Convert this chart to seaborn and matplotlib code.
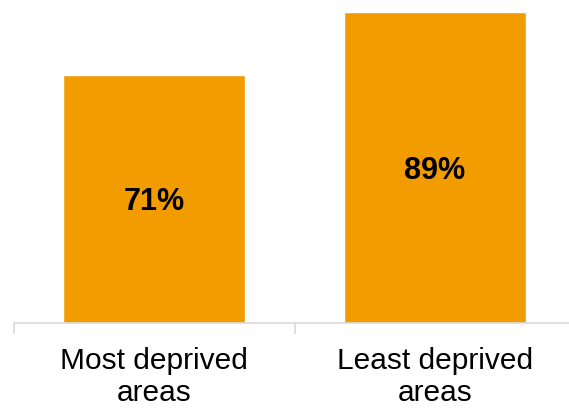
import matplotlib
matplotlib.use("Agg")
import matplotlib.pyplot as plt
import matplotlib.transforms as mtransforms
import seaborn as sns
import pandas as pd

categories = ["Most deprived\nareas", "Least deprived\nareas"]
values = [71, 89]
labels = ["71%", "89%"]

sns.set_theme(style="white")
plt.rcParams["font.family"] = ["Liberation Sans", "DejaVu Sans"]

df = pd.DataFrame({"area": categories, "pct": values})

fig = plt.figure(figsize=(5.69, 4.09), dpi=100)
ax = fig.add_axes([13.5 / 569, (409 - 323) / 409, 562 / 569, 323 / 409])

sns.barplot(data=df, x="area", y="pct", color="#F39C00", saturation=1,
            width=0.647, ax=ax)

ax.set_xlim(-0.5, 1.5)
ax.set_ylim(0, 92.3)

# value labels sit with their baseline just below the middle of each bar
below_mid = mtransforms.offset_copy(ax.transData, fig=fig, x=0, y=-11.5,
                                    units="dots")
for i, (v, lab) in enumerate(zip(values, labels)):
    ax.text(i, v / 2, lab, ha="center", va="baseline", fontsize=22,
            fontweight="bold", color="black", transform=below_mid)

for s in ["top", "right", "left"]:
    ax.spines[s].set_visible(False)
ax.spines["bottom"].set_color("#D9D9D9")
ax.spines["bottom"].set_linewidth(1.2)

ax.set_yticks([])
ax.set_xticks([-0.5, 0.5, 1.5], minor=True)
ax.tick_params(axis="x", which="minor", length=8, width=1.2, color="#D9D9D9",
               bottom=True)
ax.tick_params(axis="x", which="major", length=0, pad=17, labelsize=21.5,
               labelcolor="black")
for t in ax.get_xticklabels():
    t.set_linespacing(1.18)
ax.set_xlabel("")
ax.set_ylabel("")

fig.savefig("out.png", dpi=100)
